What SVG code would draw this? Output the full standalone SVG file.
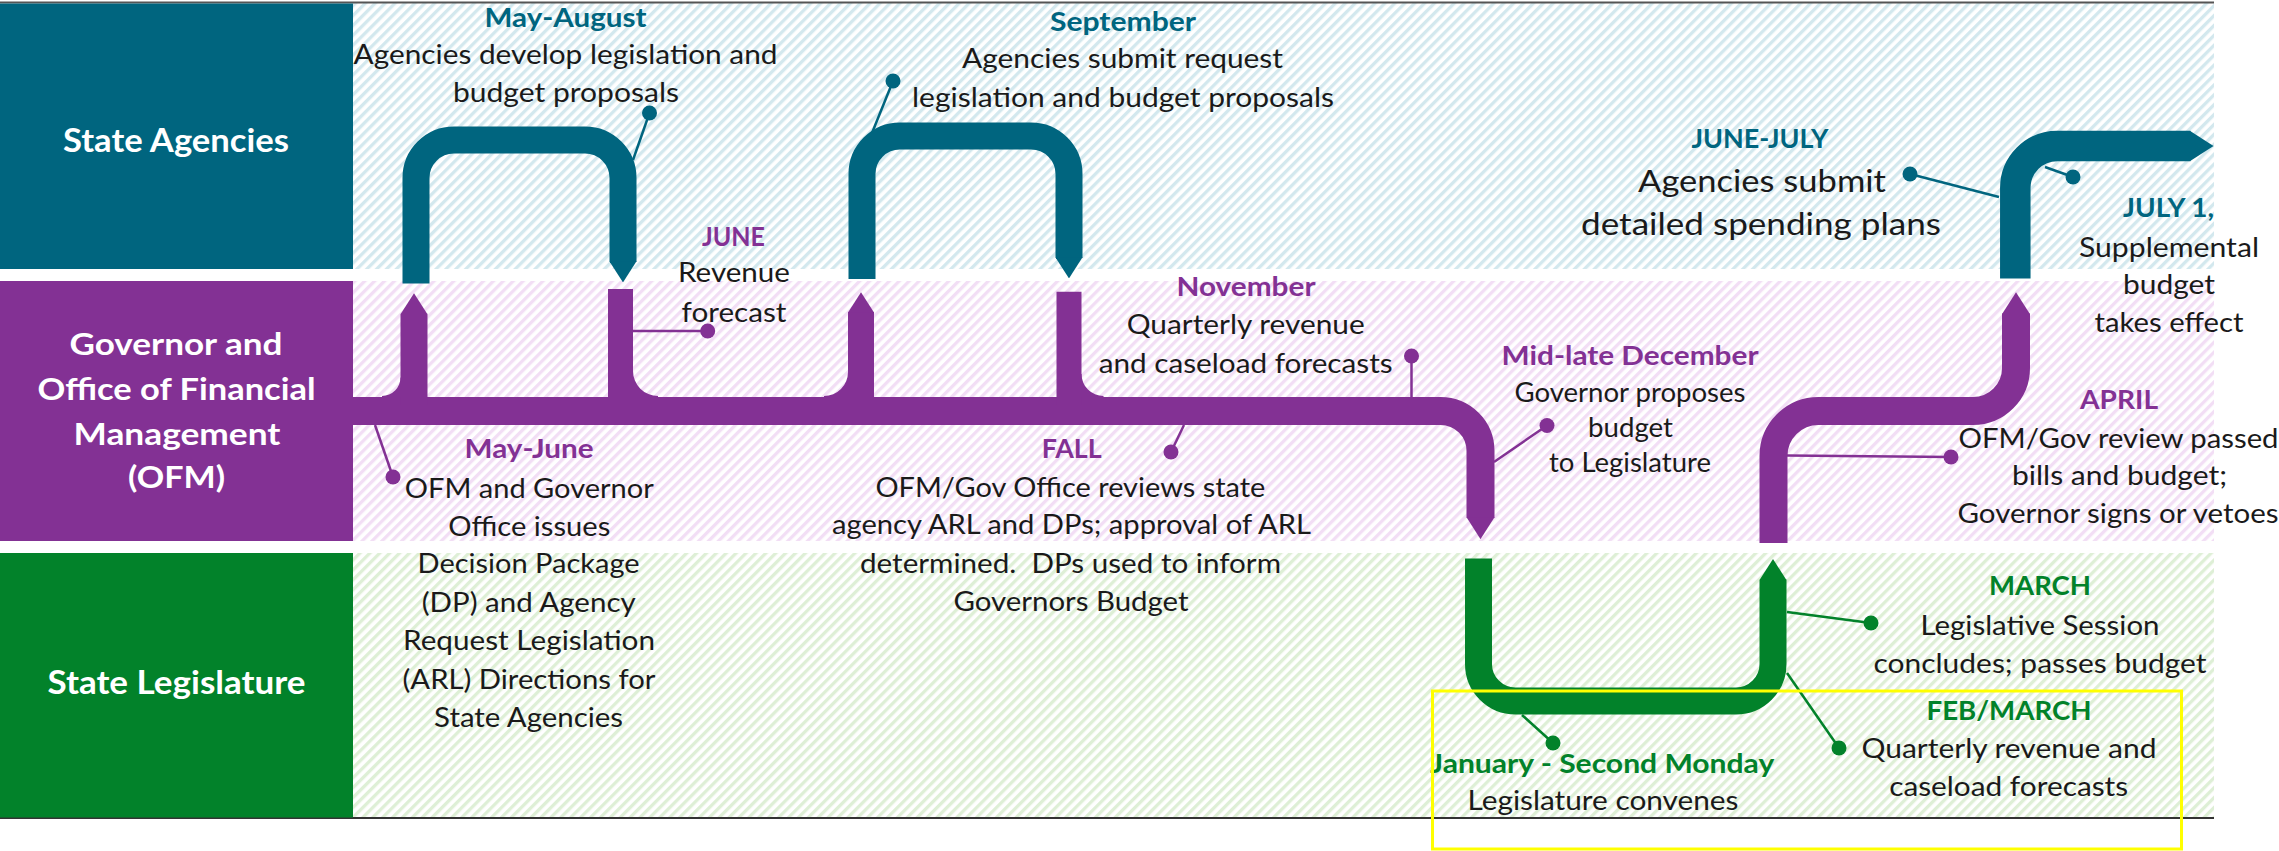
<svg xmlns="http://www.w3.org/2000/svg" width="2279" height="851" viewBox="0 0 2279 851">
<defs>
  <pattern id="stT" width="7" height="7" patternUnits="userSpaceOnUse" patternTransform="rotate(45)"><rect width="7" height="7" fill="#ffffff"/><rect width="3.3" height="7" fill="#d3e8ee"/></pattern>
  <pattern id="stP" width="7" height="7" patternUnits="userSpaceOnUse" patternTransform="rotate(45)"><rect width="7" height="7" fill="#ffffff"/><rect width="3.3" height="7" fill="#f2def5"/></pattern>
  <pattern id="stG" width="7" height="7" patternUnits="userSpaceOnUse" patternTransform="rotate(45)"><rect width="7" height="7" fill="#ffffff"/><rect width="3.3" height="7" fill="#deefd6"/></pattern>
  <marker id="tipT" viewBox="0 0 10 10" refX="0.3" refY="5" markerUnits="strokeWidth" markerWidth="0.78" markerHeight="1" orient="auto" preserveAspectRatio="none"><path d="M0,0 L10,5 L0,10 Z" fill="#00657F"/></marker>
  <marker id="tipP" viewBox="0 0 10 10" refX="0.3" refY="5" markerUnits="strokeWidth" markerWidth="0.78" markerHeight="1" orient="auto" preserveAspectRatio="none"><path d="M0,0 L10,5 L0,10 Z" fill="#833194"/></marker>
  <marker id="tipG" viewBox="0 0 10 10" refX="0.3" refY="5" markerUnits="strokeWidth" markerWidth="0.78" markerHeight="1" orient="auto" preserveAspectRatio="none"><path d="M0,0 L10,5 L0,10 Z" fill="#02822A"/></marker>
</defs>
<style>
  text{font-family:Lato,"Liberation Sans",sans-serif;text-anchor:middle}
  .lane{font-weight:700;fill:#ffffff}
  .tt{font-weight:700;font-size:27px}
  .teal{fill:#00657F}
  .purp{fill:#833194}
  .grn{fill:#02822A}
  .b{font-size:26px;fill:#1a1a1a}
  .bb{font-size:31px;fill:#1a1a1a}
  .band{fill:none;stroke-linecap:butt;stroke-linejoin:round}
  .bT{stroke:#00657F}
  .bP{stroke:#833194}
  .bG{stroke:#02822A}
  .co{fill:none;stroke-width:2.5}
  .cT{stroke:#00657F}
  .cP{stroke:#833194}
  .cG{stroke:#02822A}
  .dT{fill:#00657F}
  .dP{fill:#833194}
  .dG{fill:#02822A}
</style>

<g id="background">
  <rect x="353" y="3" width="1861" height="266" fill="url(#stT)"/>
  <rect x="353" y="281" width="1861" height="260" fill="url(#stP)"/>
  <rect x="353" y="553" width="1861" height="265" fill="url(#stG)"/>
  <line x1="0" y1="2.5" x2="2214" y2="2.5" stroke="#555555" stroke-width="2"/>
  <line x1="0" y1="818" x2="2214" y2="818" stroke="#333333" stroke-width="2"/>
</g>

<g id="lane-agencies">
  <rect x="0" y="3.5" width="353" height="265.5" fill="#00657F"/>
  <text class="lane" x="176" y="152" font-size="33" textLength="226" lengthAdjust="spacingAndGlyphs">State Agencies</text>
</g>
<g id="lane-ofm">
  <rect x="0" y="281" width="353" height="260" fill="#833194"/>
  <text class="lane" x="176" y="355" font-size="31" textLength="213" lengthAdjust="spacingAndGlyphs">Governor and</text>
  <text class="lane" x="176.5" y="400" font-size="31" textLength="278" lengthAdjust="spacingAndGlyphs">Office of Financial</text>
  <text class="lane" x="177" y="445" font-size="31" textLength="207" lengthAdjust="spacingAndGlyphs">Management</text>
  <text class="lane" x="176.5" y="488" font-size="31" textLength="97" lengthAdjust="spacingAndGlyphs">(OFM)</text>
</g>
<g id="lane-legislature">
  <rect x="0" y="553" width="353" height="264.5" fill="#02822A"/>
  <text class="lane" x="176.5" y="694" font-size="32" textLength="258" lengthAdjust="spacingAndGlyphs">State Legislature</text>
</g>

<g id="connectors">
  <path class="band bT" stroke-width="27" d="M416,283.5 V178 A38,38 0 0 1 454,140 H585 A38,38 0 0 1 623,178 V262" marker-end="url(#tipT)"/>
  <path class="band bT" stroke-width="27" d="M862,279 V174 A38,38 0 0 1 900,136 H1031 A38,38 0 0 1 1069,174 V258" marker-end="url(#tipT)"/>
  <path class="band bT" stroke-width="30.5" d="M2015.3,278.5 V188 A42,42 0 0 1 2057.3,146 H2190.5" marker-end="url(#tipT)"/>
  <path class="band bP" stroke-width="28" d="M352,411 H1440.5 A40,40 0 0 1 1480.5,451 V518" marker-end="url(#tipP)"/>
  <path class="band bP" stroke-width="27" d="M414,405 V313.7" marker-end="url(#tipP)"/>
  <path d="M382,397 L382,396 A18.5,18.5 0 0 0 400.5,377.5 L401,377.5 L401,397 Z" fill="#833194"/>
  <path class="band bP" stroke-width="25" d="M620.5,405 V289"/>
  <path d="M632,371 L633,371 A25,25 0 0 0 658,396 L658,397 L632,397 Z" fill="#833194"/>
  <path class="band bP" stroke-width="26" d="M861,405 V312" marker-end="url(#tipP)"/>
  <path d="M824,397 L824,396 A24,24 0 0 0 848,372 L849,372 L849,397 Z" fill="#833194"/>
  <path class="band bP" stroke-width="25" d="M1069,405 V291.7"/>
  <path d="M1081,374 L1081.5,374 A22,22 0 0 0 1103.5,396 L1103.5,397 L1081,397 Z" fill="#833194"/>
  <path class="band bP" stroke-width="28" d="M1773.5,543 V456 A45,45 0 0 1 1818.5,411 H1973 A43,43 0 0 0 2016,368 V313.5" marker-end="url(#tipP)"/>
  <path class="band bG" stroke-width="27" d="M1478.5,558.5 V664 A37,37 0 0 0 1515.5,701 H1736 A37,37 0 0 0 1773,664 V579.5" marker-end="url(#tipG)"/>

  <line class="co cT" x1="633" y1="160" x2="649.5" y2="113"/><circle class="dT" cx="649.5" cy="113" r="7.5"/>
  <line class="co cT" x1="872" y1="133" x2="893" y2="81"/><circle class="dT" cx="893" cy="81" r="7.5"/>
  <line class="co cT" x1="1999" y1="197" x2="1910" y2="174"/><circle class="dT" cx="1910" cy="174" r="7.5"/>
  <line class="co cT" x1="2045" y1="167" x2="2073" y2="177"/><circle class="dT" cx="2073" cy="177" r="7.5"/>

  <line class="co cP" x1="633" y1="331" x2="707.7" y2="331"/><circle class="dP" cx="707.7" cy="331" r="7.5"/>
  <line class="co cP" x1="375" y1="425" x2="393" y2="477"/><circle class="dP" cx="393" cy="477" r="7.5"/>
  <line class="co cP" x1="1411.5" y1="398" x2="1411.5" y2="356"/><circle class="dP" cx="1411.5" cy="356" r="7.5"/>
  <line class="co cP" x1="1184" y1="425" x2="1171" y2="452"/><circle class="dP" cx="1171" cy="452" r="7.5"/>
  <line class="co cP" x1="1494" y1="462" x2="1547" y2="425.5"/><circle class="dP" cx="1547" cy="425.5" r="7.5"/>
  <line class="co cP" x1="1787" y1="455.5" x2="1951" y2="457"/><circle class="dP" cx="1951" cy="457" r="7.5"/>

  <line class="co cG" x1="1787" y1="612" x2="1871" y2="623"/><circle class="dG" cx="1871" cy="623" r="7.5"/>
  <line class="co cG" x1="1787" y1="673" x2="1839" y2="748"/><circle class="dG" cx="1839" cy="748" r="7.5"/>
  <line class="co cG" x1="1522" y1="715" x2="1553" y2="743"/><circle class="dG" cx="1553" cy="743" r="7.5"/>
</g>

<g id="ev-may-august">
  <text class="tt teal" x="565.5" y="27" textLength="162" lengthAdjust="spacingAndGlyphs">May-August</text>
  <text class="b" x="565.5" y="64" textLength="424" lengthAdjust="spacingAndGlyphs">Agencies develop legislation and</text>
  <text class="b" x="566" y="102" textLength="226" lengthAdjust="spacingAndGlyphs">budget proposals</text>
</g>
<g id="ev-september">
  <text class="tt teal" x="1123" y="31" textLength="146" lengthAdjust="spacingAndGlyphs">September</text>
  <text class="b" x="1122.5" y="68" textLength="321" lengthAdjust="spacingAndGlyphs">Agencies submit request</text>
  <text class="b" x="1123" y="107" textLength="422" lengthAdjust="spacingAndGlyphs">legislation and budget proposals</text>
</g>
<g id="ev-june">
  <text class="tt purp" x="733.5" y="246" textLength="63" lengthAdjust="spacingAndGlyphs">JUNE</text>
  <text class="b" x="734" y="282" textLength="112" lengthAdjust="spacingAndGlyphs">Revenue</text>
  <text class="b" x="734" y="321.5" textLength="105" lengthAdjust="spacingAndGlyphs">forecast</text>
</g>
<g id="ev-november">
  <text class="tt purp" x="1246" y="296" textLength="139" lengthAdjust="spacingAndGlyphs">November</text>
  <text class="b" x="1245.7" y="334" textLength="238" lengthAdjust="spacingAndGlyphs">Quarterly revenue</text>
  <text class="b" x="1245.7" y="372.7" textLength="294" lengthAdjust="spacingAndGlyphs">and caseload forecasts</text>
</g>
<g id="ev-december">
  <text class="tt purp" x="1630" y="365" textLength="257" lengthAdjust="spacingAndGlyphs">Mid-late December</text>
  <text class="b" x="1630" y="401.5" textLength="231" lengthAdjust="spacingAndGlyphs">Governor proposes</text>
  <text class="b" x="1630.5" y="436.5" textLength="85" lengthAdjust="spacingAndGlyphs">budget</text>
  <text class="b" x="1630" y="471.5" textLength="162" lengthAdjust="spacingAndGlyphs">to Legislature</text>
</g>
<g id="ev-june-july">
  <text class="tt teal" x="1760" y="148" textLength="137" lengthAdjust="spacingAndGlyphs">JUNE-JULY</text>
  <text class="bb" x="1762" y="192" textLength="248" lengthAdjust="spacingAndGlyphs">Agencies submit</text>
  <text class="bb" x="1761" y="235" textLength="360" lengthAdjust="spacingAndGlyphs">detailed spending plans</text>
</g>
<g id="ev-july1">
  <text class="tt teal" x="2168.5" y="217" textLength="91" lengthAdjust="spacingAndGlyphs">JULY 1,</text>
  <text class="b" x="2169" y="256.5" textLength="180" lengthAdjust="spacingAndGlyphs">Supplemental</text>
  <text class="b" x="2169" y="294" textLength="92" lengthAdjust="spacingAndGlyphs">budget</text>
  <text class="b" x="2169" y="332" textLength="149" lengthAdjust="spacingAndGlyphs">takes effect</text>
</g>
<g id="ev-april">
  <text class="tt purp" x="2119" y="409" textLength="78" lengthAdjust="spacingAndGlyphs">APRIL</text>
  <text class="b" x="2118.5" y="448" textLength="320" lengthAdjust="spacingAndGlyphs">OFM/Gov review passed</text>
  <text class="b" x="2119.5" y="485" textLength="215" lengthAdjust="spacingAndGlyphs">bills and budget;</text>
  <text class="b" x="2118" y="523" textLength="321" lengthAdjust="spacingAndGlyphs">Governor signs or vetoes</text>
</g>
<g id="ev-may-june">
  <text class="tt purp" x="529" y="458" textLength="129" lengthAdjust="spacingAndGlyphs">May-June</text>
  <text class="b" x="529.3" y="497.7" textLength="249" lengthAdjust="spacingAndGlyphs">OFM and Governor</text>
  <text class="b" x="529.3" y="535.7" textLength="162" lengthAdjust="spacingAndGlyphs">Office issues</text>
  <text class="b" x="528.6" y="573.3" textLength="222" lengthAdjust="spacingAndGlyphs">Decision Package</text>
  <text class="b" x="528.7" y="611.7" textLength="214" lengthAdjust="spacingAndGlyphs">(DP) and Agency</text>
  <text class="b" x="529" y="650" textLength="252" lengthAdjust="spacingAndGlyphs">Request Legislation</text>
  <text class="b" x="529" y="689.3" textLength="253" lengthAdjust="spacingAndGlyphs">(ARL) Directions for</text>
  <text class="b" x="528.6" y="727.3" textLength="189" lengthAdjust="spacingAndGlyphs">State Agencies</text>
</g>
<g id="ev-fall">
  <text class="tt purp" x="1071.7" y="458" textLength="60" lengthAdjust="spacingAndGlyphs">FALL</text>
  <text class="b" x="1070.4" y="496.7" textLength="390" lengthAdjust="spacingAndGlyphs">OFM/Gov Office reviews state</text>
  <text class="b" x="1071.5" y="534.3" textLength="479" lengthAdjust="spacingAndGlyphs">agency ARL and DPs; approval of ARL</text>
  <text class="b" x="1070.5" y="573.3" textLength="421" lengthAdjust="spacingAndGlyphs">determined.&#160; DPs used to inform</text>
  <text class="b" x="1071" y="610.7" textLength="235" lengthAdjust="spacingAndGlyphs">Governors Budget</text>
</g>
<g id="ev-march">
  <text class="tt grn" x="2040" y="595" textLength="102" lengthAdjust="spacingAndGlyphs">MARCH</text>
  <text class="b" x="2040" y="635" textLength="239" lengthAdjust="spacingAndGlyphs">Legislative Session</text>
  <text class="b" x="2040" y="672.7" textLength="333" lengthAdjust="spacingAndGlyphs">concludes; passes budget</text>
</g>
<g id="ev-feb-march">
  <text class="tt grn" x="2009" y="720" textLength="165" lengthAdjust="spacingAndGlyphs">FEB/MARCH</text>
  <text class="b" x="2009" y="758.3" textLength="295" lengthAdjust="spacingAndGlyphs">Quarterly revenue and</text>
  <text class="b" x="2008.7" y="796" textLength="239" lengthAdjust="spacingAndGlyphs">caseload forecasts</text>
</g>
<g id="ev-january">
  <text class="tt grn" x="1602.3" y="772.7" textLength="344" lengthAdjust="spacingAndGlyphs">January - Second Monday</text>
  <text class="b" x="1603" y="810" textLength="271" lengthAdjust="spacingAndGlyphs">Legislature convenes</text>
</g>

<rect id="highlight" x="1432.5" y="691" width="749" height="158" fill="none" stroke="#FFFF00" stroke-width="3"/>
</svg>
